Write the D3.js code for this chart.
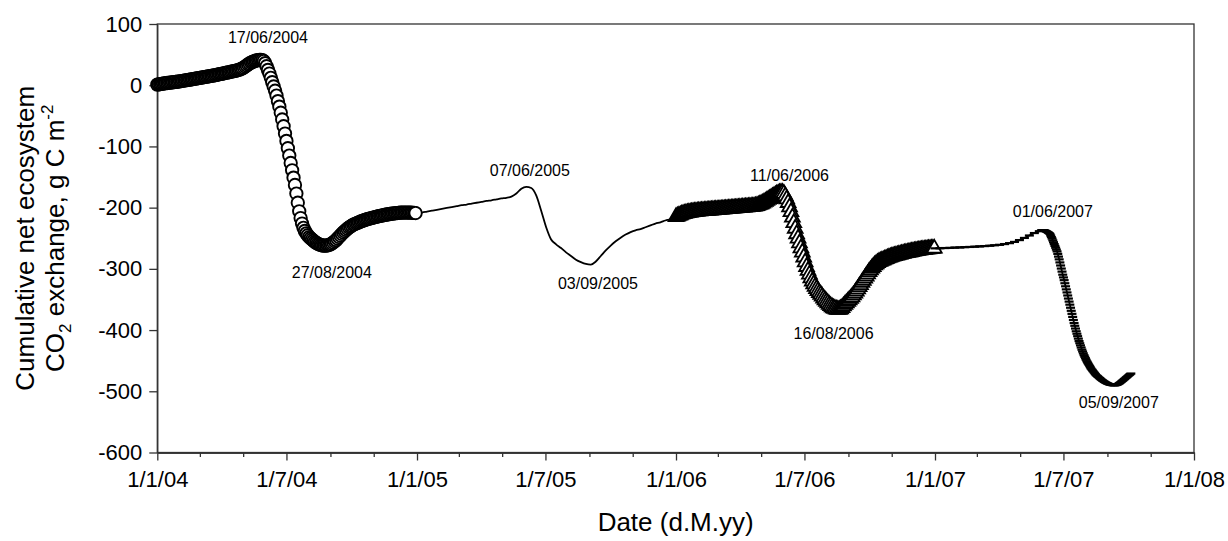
<!DOCTYPE html>
<html>
<head>
<meta charset="utf-8">
<script src="https://cdn.jsdelivr.net/npm/d3@7"></script>
<style>
html,body{margin:0;padding:0;background:#fff;}
svg{display:block;font-family:"Liberation Sans",Arial,Helvetica,sans-serif;}
</style>
</head>
<body>
<svg id="chart" width="1228" height="541"></svg>
<script>
// ---------- data ----------
const xDomain = ["2004-01-01", "2008-01-01"];
const yDomain = [-600, 100];
const yTicks = [-600, -500, -400, -300, -200, -100, 0, 100];

// 2004: every 2 days from 1 Jan 2004 (open circles)
const nee2004Start = "2004-01-01";
const nee2004StepDays = 2;
const nee2004 = [
  1,1.4,1.8,2.2,2.6,3,3.3,3.6,3.9,4.2,4.5,4.8,5.1,5.4,5.7,6,6.4,6.8,7.2,7.6,
  8,8.4,8.8,9.2,9.6,10,10.4,10.8,11.2,11.6,12,12.4,12.8,13.2,13.6,14,14.4,14.8,15.2,15.6,
  16,16.5,17,17.5,18,18.5,19,19.5,20,20.5,21,21.5,22,22.5,23,23.5,24.2,24.8,25.5,26.5,
  27.5,29,30.5,32.2,34,35.5,37,38,39,39.8,40.5,41,41.5,41.5,41,39.5,36,31,25,19,
  12,5,-2,-9,-17,-26,-35,-45,-56,-67,-79,-91,-103,-115,-127,-139,-151,-163,-177,-192,
  -206,-217,-226,-233,-238,-242,-245,-248,-250,-252,-254,-256,-257.5,-259,-260,-261,-261.5,-262,-262,-262,
  -261.5,-261,-260,-258.5,-257,-255,-253,-250.5,-248,-245.5,-243,-240.5,-238.5,-236.5,-234.5,-232.5,-231,-229.5,-228,-227,
  -226,-225,-224,-223,-222,-221.2,-220.4,-219.6,-218.8,-218.2,-217.6,-217,-216.4,-215.8,-215.2,-214.6,-214,-213.5,-213,-212.5,
  -212,-211.6,-211.2,-210.8,-210.4,-210,-209.7,-209.4,-209.1,-208.8,-208.5,-208.3,-208.1,-208,-208,-208,-208,-208,-208.1,-208.2,
  -208.4,-208.6,-208.8
];

// 2005: weekly from 1 Jan 2005 (line only)
const nee2005Start = "2005-01-01";
const nee2005StepDays = 7;
const nee2005 = [
  -209,-208,-206.5,-205,-203.5,-202,-200.5,-199,-197.5,-196,-195,-193.5,-192,-190.5,-189,-188,-186.5,-185,-184,-182,
  -177,-169,-166,-168,-180,-205,-232,-252,-260,-266,-273,-279,-285,-289,-292,-293,-288,-279,-270,-262,
  -255,-249,-244,-240,-237,-235,-232,-229,-226,-224,-221,-219,-216
];

// 2006: every 2 days from 1 Jan 2006 (open triangles)
const nee2006Start = "2006-01-01";
const nee2006StepDays = 2;
const nee2006 = [
  -215,-214,-213,-212,-211,-210.3,-209.6,-209,-208.5,-208,-207.6,-207.2,-206.9,-206.6,-206.3,-206,-205.8,-205.6,-205.4,-205.2,
  -205,-204.8,-204.6,-204.4,-204.2,-204,-203.8,-203.6,-203.4,-203.2,-203,-202.8,-202.6,-202.4,-202.2,-202,-201.8,-201.6,-201.4,-201.2,
  -201,-200.8,-200.6,-200.4,-200.2,-200,-199.8,-199.6,-199.4,-199.2,-199,-198.8,-198.6,-198.4,-198.2,-198,-197.5,-197,-196,-195,
  -194,-193,-191.5,-190,-188.5,-187,-185.5,-184,-182.5,-181,-179.5,-178,-177,-176,-175.5,-175.5,-177,-181,-186,-192,
  -199,-207,-216,-225,-234,-243,-250,-258,-266,-273,-281,-289,-296.5,-303,-309,-315,-320.5,-325,-329,-332.5,
  -336,-339,-342,-345,-348,-351,-353.5,-356,-358.5,-360.5,-362.5,-364,-365,-366,-366.5,-366.5,-365.5,-363.5,-361,-358.5,
  -356,-353.5,-351,-348.5,-346,-343,-340,-336.5,-333,-329.5,-326,-322.5,-319,-315.5,-312,-308.5,-305,-302,-299,-296.5,
  -294,-292,-290,-288.5,-287.5,-286.5,-285.5,-284.5,-283.5,-282.5,-281.5,-280.7,-280,-279.3,-278.7,-278,-277.4,-276.8,-276.2,-275.6,
  -275,-274.4,-273.9,-273.4,-272.9,-272.4,-272,-271.5,-271,-270.6,-270.2,-269.8,-269.4,-269,-268.7,-268.4,-268.1,-267.8,-267.5,-267.2,
  -267,-266.8,-266.6
];

// 2007: weekly from 1 Jan, then daily from 31 May (horizontal dash markers)
const nee2007aStart = "2007-01-01";
const nee2007aStepDays = 7;
const nee2007a = [
  -266.5,-266.3,-266,-265.7,-265.3,-265,-264.6,-264.2,-263.8,-263.3,-262.8,-262.2,-261.5,-260.7,-259.5,-258,-256,-253,-249.5,-245.5,
  -241.5,-238.5
];
const nee2007bStart = "2007-05-31";
const nee2007bStepDays = 1;
const nee2007b = [
  -237.2,-236.9,-236.7,-236.8,-237.1,-237.6,-238.2,-238.8,-239.5,-240.2,-241,-241.8,-243,-245.5,-248,-250.5,-253.5,-256.5,-259.5,-262.5,
  -265.5,-268.5,-271.5,-275.5,-280,-284.5,-289.5,-294.5,-299.5,-304.5,-309.5,-314,-318.5,-323.5,-328.5,-333.5,-338.5,-343.5,-348.5,-353.5,
  -358.5,-363.5,-368.5,-373.5,-378.5,-383.5,-388.5,-393,-397.5,-402,-406,-410,-414,-418,-421.5,-425,-428.5,-432,-435,-438,
  -441,-443.5,-446,-448.5,-451,-453,-455,-457,-459,-461,-463,-464.5,-466,-467.5,-469,-470.5,-472,-473.5,-474.5,-475.5,
  -476.5,-477.5,-478.5,-479.5,-480.5,-481.5,-482.3,-483.1,-483.9,-484.7,-485.4,-486,-486.6,-487.2,-487.7,-488.2,-488.6,-489,-489.3,-489.6,
  -489.8,-490,-490.1,-490.1,-490,-489.7,-489.3,-488.8,-488.2,-487.5,-486.7,-485.8,-484.9,-484,-483,-482,-481,-480,-479,-478,
  -477,-476,-475,-474,-473,-472,-471
];

// date annotations and where they sit (data units)
const peakLabels = ["17/06/2004","27/08/2004","07/06/2005","03/09/2005","11/06/2006","16/08/2006","01/06/2007","05/09/2007"];
const labelAnchorDates = ["2004-06-05","2004-09-03","2005-06-09","2005-09-13","2006-06-10","2006-08-11","2007-06-16","2007-09-17"];
const labelAnchorValues = [69, -315, -148, -333, -156, -415, -215, -527];

const xTitle = "Date (d.M.yy)";
const yTitle1 = "Cumulative net ecosystem";

// ---------- chart ----------
const W = 1228, H = 541;
const margin = {top: 24, right: 34, bottom: 88.5, left: 157.3};
const iw = W - margin.left - margin.right, ih = H - margin.top - margin.bottom;
const parse = d3.utcParse("%Y-%m-%d");

function series(start, step, vals) {
  const s = parse(start);
  return vals.map((v, i) => ({date: d3.utcDay.offset(s, i * step), value: v}));
}
const s2004 = series(nee2004Start, nee2004StepDays, nee2004);
const s2005 = series(nee2005Start, nee2005StepDays, nee2005);
const s2006 = series(nee2006Start, nee2006StepDays, nee2006);
const s2007a = series(nee2007aStart, nee2007aStepDays, nee2007a);
const s2007b = series(nee2007bStart, nee2007bStepDays, nee2007b);
const all = [...s2004, ...s2005, ...s2006, ...s2007a, ...s2007b];

const x = d3.scaleUtc().domain(xDomain.map(parse)).range([0, iw]);
const y = d3.scaleLinear().domain(yDomain).range([ih, 0]);

const svg = d3.select("#chart");
const g = svg.append("g").attr("transform", `translate(${margin.left},${margin.top})`);

const axisColor = "#333";

// frame
g.append("rect").attr("x", 0).attr("y", 0).attr("width", iw).attr("height", ih)
  .attr("fill", "none").attr("stroke", axisColor).attr("stroke-width", 1.3);

// x axis
const majorDates = d3.utcMonth.every(6).range(parse("2004-01-01"), parse("2008-01-02"));
const minorDates = d3.utcMonth.every(2).range(parse("2004-01-01"), parse("2008-01-02"))
  .filter(d => d.getUTCMonth() !== 0 && d.getUTCMonth() !== 6);
const fmt = d3.utcFormat("%-d/%-m/%y");

const gxMinor = g.append("g").attr("transform", `translate(0,${ih})`)
  .call(d3.axisBottom(x).tickValues(minorDates).tickSize(4.5).tickSizeOuter(0).tickFormat(""));
const gx = g.append("g").attr("transform", `translate(0,${ih})`)
  .call(d3.axisBottom(x).tickValues(majorDates).tickSize(8).tickSizeOuter(0).tickPadding(11).tickFormat(fmt));

// y axis
const gy = g.append("g")
  .call(d3.axisLeft(y).tickValues(yTicks).tickSize(8).tickSizeOuter(0).tickPadding(7).tickFormat(d => String(d)));

[gx, gxMinor, gy].forEach(a => {
  a.selectAll("path").attr("stroke", axisColor).attr("stroke-width", 1.3);
  a.selectAll("line").attr("stroke", axisColor).attr("stroke-width", 1.3);
  a.selectAll("text").attr("fill", "#000").style("font-size", "22px")
    .style("font-family", '"Liberation Sans", Arial, sans-serif');
});

// connecting line
const line = d3.line().x(d => x(d.date)).y(d => y(d.value)).curve(d3.curveMonotoneX);
g.append("path").datum(all).attr("d", line)
  .attr("fill", "none").attr("stroke", "#000").attr("stroke-width", 1.8).attr("stroke-linejoin", "round");

// 2004 open circles
g.append("g").selectAll("circle").data(s2004).join("circle")
  .attr("cx", d => x(d.date)).attr("cy", d => y(d.value)).attr("r", 6.2)
  .attr("fill", "#fff").attr("stroke", "#000").attr("stroke-width", 1.9);

// 2006 open triangles
const tri = d3.symbol().type(d3.symbolTriangle).size(95);
g.append("g").selectAll("path").data(s2006).join("path")
  .attr("d", tri).attr("transform", d => `translate(${x(d.date)},${y(d.value)})`)
  .attr("fill", "#fff").attr("stroke", "#000").attr("stroke-width", 1.8).attr("stroke-linejoin", "miter");

// 2007 horizontal dashes
g.append("g").selectAll("rect").data([...s2007a, ...s2007b]).join("rect")
  .attr("x", d => x(d.date) - 4.5).attr("y", d => y(d.value) - 1.1)
  .attr("width", 9).attr("height", 2.2).attr("fill", "#000");

// annotations
g.append("g").selectAll("text").data(peakLabels).join("text")
  .attr("x", (d, i) => x(parse(labelAnchorDates[i])))
  .attr("y", (d, i) => y(labelAnchorValues[i]))
  .attr("text-anchor", "middle").style("font-size", "16px").attr("fill", "#000")
  .text(d => d);

// axis titles
svg.append("text").attr("x", margin.left + iw / 2).attr("y", 531)
  .attr("text-anchor", "middle").style("font-size", "26px").attr("fill", "#000").text(xTitle);

const cy = margin.top + ih / 2;
svg.append("text").attr("transform", `translate(34,${cy}) rotate(-90)`)
  .attr("text-anchor", "middle").style("font-size", "26px").attr("fill", "#000").text(yTitle1);

const t2 = svg.append("text").attr("transform", `translate(64,${cy}) rotate(-90)`)
  .attr("text-anchor", "middle").style("font-size", "26px").attr("fill", "#000");
t2.append("tspan").text("CO");
t2.append("tspan").attr("dy", 7).style("font-size", "17px").text("2");
t2.append("tspan").attr("dy", -7).text(" exchange, g C m");
t2.append("tspan").attr("dy", -11).style("font-size", "17px").text("-2");
</script>
</body>
</html>
